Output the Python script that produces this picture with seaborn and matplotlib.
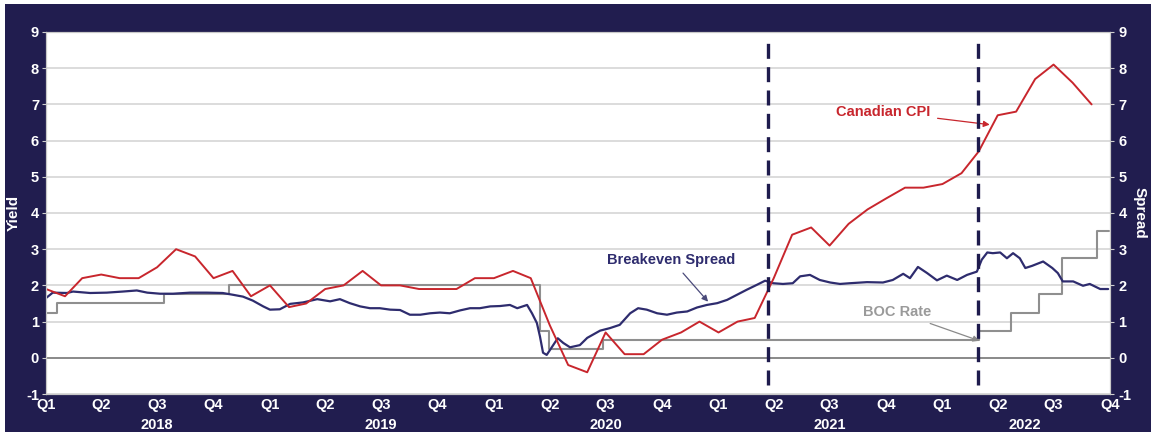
import pandas as pd
import matplotlib
matplotlib.use("Agg")
import matplotlib.pyplot as plt
from matplotlib.patches import Rectangle
import seaborn as sns

sns.set_style("white")
plt.rcParams["font.family"] = ["Liberation Sans", "DejaVu Sans"]
plt.rcParams["axes.unicode_minus"] = False

NAVY = "#211d4f"
RED = "#c8262d"
BLUE = "#2e2c6e"
GREY = "#8f8f8f"

# Canadian CPI y/y (value of the previous month, plotted at month start)
cpi_dates = pd.date_range("2018-01-01", "2022-09-01", freq="MS")
cpi_values = [1.9, 1.7, 2.2, 2.3, 2.2, 2.2, 2.5, 3.0, 2.8, 2.2, 2.4, 1.7,
              2.0, 1.4, 1.5, 1.9, 2.0, 2.4, 2.0, 2.0, 1.9, 1.9, 1.9, 2.2,
              2.2, 2.4, 2.2, 0.9, -0.2, -0.4, 0.7, 0.1, 0.1, 0.5, 0.7, 1.0,
              0.7, 1.0, 1.1, 2.2, 3.4, 3.6, 3.1, 3.7, 4.1, 4.4, 4.7, 4.7,
              4.8, 5.1, 5.7, 6.7, 6.8, 7.7, 8.1, 7.6, 7.0]

# breakeven spread
be_dates = ["2018-01-01", "2018-01-12", "2018-02-04", "2018-02-14", "2018-03-14",
            "2018-04-10", "2018-05-06", "2018-05-29", "2018-06-15", "2018-07-06",
            "2018-07-27", "2018-08-24", "2018-09-20", "2018-10-16", "2018-11-02",
            "2018-11-18", "2018-12-04", "2018-12-21", "2019-01-01", "2019-01-17",
            "2019-02-03", "2019-02-24", "2019-03-19", "2019-04-09", "2019-04-25",
            "2019-05-11", "2019-05-28", "2019-06-13", "2019-06-29", "2019-07-16",
            "2019-08-01", "2019-08-17", "2019-09-03", "2019-09-19", "2019-10-05",
            "2019-10-21", "2019-11-07", "2019-11-23", "2019-12-09", "2019-12-26",
            "2020-01-11", "2020-01-27", "2020-02-08", "2020-02-24", "2020-03-03",
            "2020-03-11", "2020-03-16", "2020-03-21", "2020-03-27", "2020-04-05",
            "2020-04-14", "2020-04-23", "2020-05-04", "2020-05-20", "2020-06-01",
            "2020-06-22", "2020-07-08", "2020-07-24", "2020-08-10", "2020-08-23",
            "2020-09-06", "2020-09-23", "2020-10-09", "2020-10-25", "2020-11-11",
            "2020-11-27", "2020-12-13", "2020-12-30", "2021-01-15", "2021-01-31",
            "2021-02-16", "2021-03-05", "2021-03-18", "2021-03-31", "2021-04-16",
            "2021-05-02", "2021-05-14", "2021-05-30", "2021-06-15", "2021-07-02",
            "2021-07-18", "2021-08-03", "2021-08-31", "2021-09-26", "2021-10-12",
            "2021-10-29", "2021-11-09", "2021-11-22", "2021-12-07", "2021-12-23",
            "2022-01-08", "2022-01-25", "2022-02-10", "2022-02-26", "2022-03-06",
            "2022-03-15", "2022-03-24", "2022-04-05", "2022-04-16", "2022-04-26",
            "2022-05-07", "2022-05-16", "2022-05-27", "2022-06-14", "2022-06-29",
            "2022-07-08", "2022-07-16", "2022-08-02", "2022-08-18", "2022-08-29",
            "2022-09-15", "2022-09-28"]
be_values = [1.65, 1.80, 1.79, 1.83, 1.79,
             1.80, 1.83, 1.86, 1.80, 1.77,
             1.77, 1.80, 1.80, 1.79, 1.74,
             1.69, 1.58, 1.42, 1.33, 1.34,
             1.49, 1.53, 1.62, 1.56, 1.62,
             1.51, 1.42, 1.37, 1.37, 1.33,
             1.32, 1.19, 1.19, 1.23, 1.25,
             1.23, 1.31, 1.37, 1.37, 1.42,
             1.43, 1.46, 1.37, 1.46, 1.23,
             0.96, 0.59, 0.14, 0.08, 0.31,
             0.54, 0.41, 0.29, 0.35, 0.55,
             0.75, 0.82, 0.91, 1.23, 1.37,
             1.33, 1.23, 1.19, 1.25, 1.28,
             1.39, 1.46, 1.51, 1.60, 1.74,
             1.88, 2.02, 2.13, 2.06, 2.04,
             2.06, 2.25, 2.29, 2.15, 2.08,
             2.04, 2.06, 2.09, 2.08, 2.15,
             2.32, 2.20, 2.51, 2.34, 2.14,
             2.27, 2.15, 2.29, 2.38, 2.71,
             2.91, 2.89, 2.91, 2.75, 2.89,
             2.75, 2.48, 2.54, 2.66, 2.48,
             2.34, 2.11, 2.11, 1.99, 2.04,
             1.90, 1.90]

# BOC rate steps
boc_dates = ["2018-01-01", "2018-01-19", "2018-07-12", "2018-10-26", "2020-03-16",
             "2020-03-31", "2020-06-27", "2022-03-02", "2022-04-22", "2022-06-07",
             "2022-07-15", "2022-09-10", "2022-09-29"]
boc_values = [1.25, 1.5, 1.75, 2.0, 0.75, 0.25, 0.5, 0.75, 1.25, 1.75, 2.75, 3.5, 3.5]

event_dates = ["2021-03-23", "2022-02-28"]
years = ["2018", "2019", "2020", "2021", "2022"]
year_pos = ["2018-07-01", "2019-07-01", "2020-07-01", "2021-07-01", "2022-05-15"]

cpi = pd.DataFrame({"date": cpi_dates, "value": cpi_values})
be = pd.DataFrame({"date": pd.to_datetime(be_dates), "value": be_values})
boc = pd.DataFrame({"date": pd.to_datetime(boc_dates), "value": boc_values})

fig = plt.figure(figsize=(11.51, 4.34), dpi=100)
fig.patch.set_facecolor("white")
fig.patches.append(Rectangle((5 / 1151, 0.004), 1, 1 - 4 / 434 - 0.004, transform=fig.transFigure,
                             facecolor=NAVY, edgecolor="none", zorder=-10))
ax = fig.add_axes([46 / 1151, 1 - 394 / 434, 1064 / 1151, 362 / 434])
ax.set_facecolor("white")

for v in range(-1, 10):
    ax.axhline(v, color="#808080" if v == 0 else "#d9d9d9", lw=1.3, zorder=0)

sns.lineplot(data=boc, x="date", y="value", ax=ax, color=GREY, lw=1.5, drawstyle="steps-post", zorder=2)
sns.lineplot(data=be, x="date", y="value", ax=ax, color=BLUE, lw=1.6, zorder=3)
sns.lineplot(data=cpi, x="date", y="value", ax=ax, color=RED, lw=1.4, zorder=4)

for d in event_dates:
    ax.axvline(pd.Timestamp(d), ymin=0.025, ymax=0.99, color="#1e1b4d", lw=2.4,
               dashes=(4.5, 2.5), zorder=5)

ax.set_xlim(pd.Timestamp("2018-01-01"), pd.Timestamp("2022-10-01"))
ax.set_ylim(-1, 9)
ax.set_yticks(range(-1, 10))
ax.set_xlabel("")
ax.set_ylabel("Yield", color="white", fontsize=11, fontweight="bold", va="center")
ax.yaxis.set_label_coords(-0.030, 0.5)

qticks = pd.date_range("2018-01-01", "2022-10-01", freq="QS")
ax.set_xticks(qticks)
ax.set_xticklabels(["Q%d" % ((d.month - 1) // 3 + 1) for d in qticks])
ax.tick_params(axis="x", colors="#cfcfcf", labelcolor="white", labelsize=10.5, length=3,
               direction="in", pad=3)
ax.tick_params(axis="y", colors="#cfcfcf", labelcolor="white", labelsize=10.5, length=3, pad=2)
for lab in ax.get_xticklabels() + ax.get_yticklabels():
    lab.set_fontweight("bold")
for s in ax.spines.values():
    s.set_color("#c8c8c8")

ax2 = ax.twinx()
ax2.set_ylim(-1, 9)
ax2.set_yticks(range(-1, 10))
ax2.tick_params(axis="y", colors="#cfcfcf", labelcolor="white", labelsize=10.5, length=3, pad=3)
for lab in ax2.get_yticklabels():
    lab.set_fontweight("bold")
ax2.set_ylabel("Spread", color="white", fontsize=11, fontweight="bold", rotation=270, va="center")
ax2.yaxis.set_label_coords(1.028, 0.5)
for s in ax2.spines.values():
    s.set_color("#c8c8c8")

for y, p in zip(years, year_pos):
    ax.text(pd.Timestamp(p), -0.087, y, transform=ax.get_xaxis_transform(), ha="center", va="center",
            color="white", fontsize=10.5, fontweight="bold")

ax.annotate("Canadian CPI", xy=(pd.Timestamp("2022-03-19"), 6.44), xytext=(pd.Timestamp("2021-09-26"), 6.8),
            ha="center", va="center", color=RED, fontsize=10.5, fontweight="bold",
            arrowprops=dict(arrowstyle="-|>", color=RED, lw=0.9, mutation_scale=9, shrinkA=3, shrinkB=0))
ax.annotate("Breakeven Spread", xy=(pd.Timestamp("2020-12-15"), 1.55), xytext=(pd.Timestamp("2020-10-16"), 2.71),
            ha="center", va="center", color=BLUE, fontsize=10.5, fontweight="bold",
            arrowprops=dict(arrowstyle="-|>", color="#4a4a7a", lw=0.9, mutation_scale=9, shrinkA=3, shrinkB=0))
ax.annotate("BOC Rate", xy=(pd.Timestamp("2022-03-02"), 0.47), xytext=(pd.Timestamp("2021-10-19"), 1.27),
            ha="center", va="center", color="#9a9a9a", fontsize=10.5, fontweight="bold",
            arrowprops=dict(arrowstyle="-|>", color="#8a8a8a", lw=0.9, mutation_scale=9, shrinkA=3, shrinkB=0))

fig.savefig("out.png", dpi=100)
